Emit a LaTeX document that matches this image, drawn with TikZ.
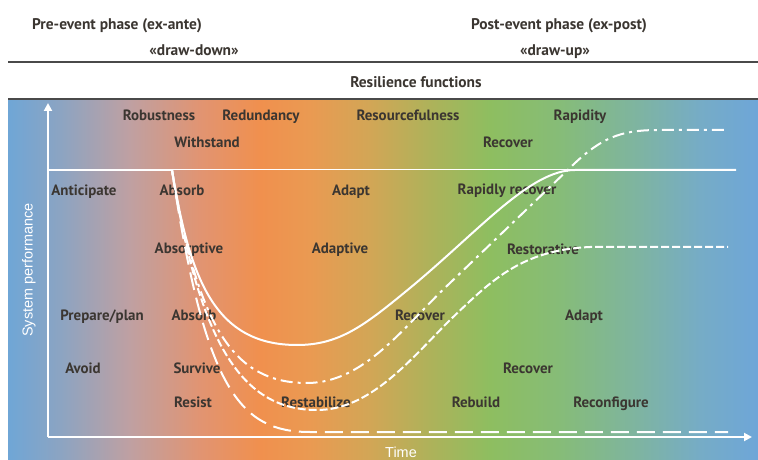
\documentclass[tikz,border=0pt]{standalone}
\usepackage{fontspec}
\setmainfont{PT Sans}
\newfontfamily\axisfont{Liberation Sans}
\usetikzlibrary{arrows.meta,positioning}

\definecolor{labelgray}{HTML}{3B3631}
\definecolor{rulegray}{HTML}{4A4A4A}
\definecolor{gA}{HTML}{6FA6D6}
\definecolor{gB}{HTML}{8CA4C2}
\definecolor{gC}{HTML}{BFA0A2}
\definecolor{gD}{HTML}{E19472}
\definecolor{gE}{HTML}{F0904E}
\definecolor{gF}{HTML}{EA9A52}
\definecolor{gG}{HTML}{D2A656}
\definecolor{gH}{HTML}{AEB25A}
\definecolor{gI}{HTML}{8EBE60}
\definecolor{gJ}{HTML}{86BC78}
\definecolor{gK}{HTML}{7EB4A2}
\definecolor{gL}{HTML}{76ACC6}
\definecolor{gM}{HTML}{6EA6D8}

\pgfdeclarehorizontalshading{resilience}{100bp}{%
  color(0bp)=(gA); color(25bp)=(gA); color(28.5bp)=(gB); color(33.1bp)=(gC);
  color(37.8bp)=(gD); color(41.8bp)=(gE); color(45.1bp)=(gF); color(49.1bp)=(gG);
  color(53.1bp)=(gH); color(57.1bp)=(gI); color(61.8bp)=(gJ); color(67.1bp)=(gK);
  color(71.1bp)=(gL); color(75bp)=(gM); color(100bp)=(gM)}

\begin{document}
\begin{tikzpicture}[x=1bp, y=-1bp,
    func/.style={font=\bfseries\fontsize{15}{17}\selectfont, text=labelgray, inner sep=1bp,
        text height=12bp, text depth=1.2bp},
    head/.style={font=\bfseries\fontsize{15.5}{17}\selectfont, text=labelgray,
        text height=12.4bp, text depth=1.2bp},
    axislabel/.style={font=\axisfont\fontsize{14.5}{16}\selectfont, text=white},
    axis/.style={white, line width=2.4bp, -{Triangle[length=8bp,width=8bp]}},
    rule/.style={rulegray, line width=1.8bp},
    curve/.style={white, line width=2bp},
    dashdot/.style={curve, dash pattern=on 12bp off 5bp on 3bp off 5bp},
    shortdash/.style={curve, dash pattern=on 8bp off 3bp},
    longdash/.style={curve, dash pattern=on 18bp off 8bp}
]
\useasboundingbox (0,0) rectangle (758,460);

% background band and header rules
\shade[shading=resilience] (8,99) rectangle (758,460);
\draw[rule] (8,62) -- (758,62);
\draw[rule] (8,99) -- (758,99);

% header
\node[head] (pre) at (117,24) {Pre-event phase (ex-ante)};
\node[head] (post) at (559,24) {Post-event phase (ex-post)};
\node[head] (down) at (194,50) {«draw-down»};
\node[head] (up) at (555,50) {«draw-up»};
\node[head] (resfun) at (416,82) {Resilience functions};

% resilience functions
\node[func] (robust) at (159,115) {Robustness};
\node[func] (redund) at (261,115) {Redundancy};
\node[func] (resource) at (408,115) {Resourcefulness};
\node[func] (rapid) at (580,115) {Rapidity};
\node[func] (withstand) at (207,142) {Withstand};
\node[func] (recovtop) at (508,142) {Recover};
\node[func] (anticip) at (84,190) {Anticipate};
\node[func] (absorbA) at (182,190) {Absorb};
\node[func] (adaptA) at (351,190) {Adapt};
\node[func] (rapidrec) at (507,189) {Rapidly recover};
\node[func] (absorptive) at (189,248) {Absorptive};
\node[func] (adaptive) at (340,248) {Adaptive};
\node[func] (restorative) at (543,249) {Restorative};
\node[func] (prepare) at (102,315) {Prepare/plan};
\node[func] (absorbB) at (194,315) {Absorb};
\node[func] (recovA) at (420,315) {Recover};
\node[func] (adaptB) at (584,315) {Adapt};
\node[func] (avoid) at (83,368) {Avoid};
\node[func] (survive) at (197,368) {Survive};
\node[func] (recovB) at (528,368) {Recover};
\node[func] (resist) at (193,402) {Resist};
\node[func] (restab) at (316,402) {Restabilize};
\node[func] (rebuild) at (476,402) {Rebuild};
\node[func] (reconfig) at (611,402) {Reconfigure};

% axes
\coordinate (O) at (48,437);
\coordinate (ytop) at (48,103);
\coordinate (xend) at (752,437);
\coordinate (base) at (48,170);
\coordinate (drop) at (172,170);
\coordinate (back) at (575,170);
\coordinate (baseend) at (736,170);
\draw[axis] (O) -- (ytop);
\draw[axis] (O) -- (xend);
\node[axislabel, rotate=90] (perf) at (29,270) {System performance};
\node[axislabel] (time) at (401,452) {Time};

% performance curves
\draw[white, line width=2.4bp] (base) -- (drop);
\draw[white, line width=1bp] (drop) -- (back);
\draw[curve] (drop) .. controls (190,280) and (215,345) .. (297,345)
    .. controls (340,345) and (365,325) .. (410,288)
    .. controls (480,230) and (530,170) .. (back) -- (baseend);
\draw[dashdot] (drop) .. controls (198,330) and (235,383) .. (307,383)
    .. controls (365,383) and (405,325) .. (450,283) -- (575,163)
    .. controls (605,135) and (625,130) .. (660,130) -- (725,130);
\draw[shortdash] (drop) .. controls (200,350) and (245,410) .. (317,410)
    .. controls (370,410) and (410,360) .. (450,320)
    .. controls (490,282) and (520,250) .. (590,247) -- (728,247);
\draw[longdash] (drop) .. controls (205,390) and (240,432) .. (310,432) -- (728,432);

\end{tikzpicture}
\end{document}
